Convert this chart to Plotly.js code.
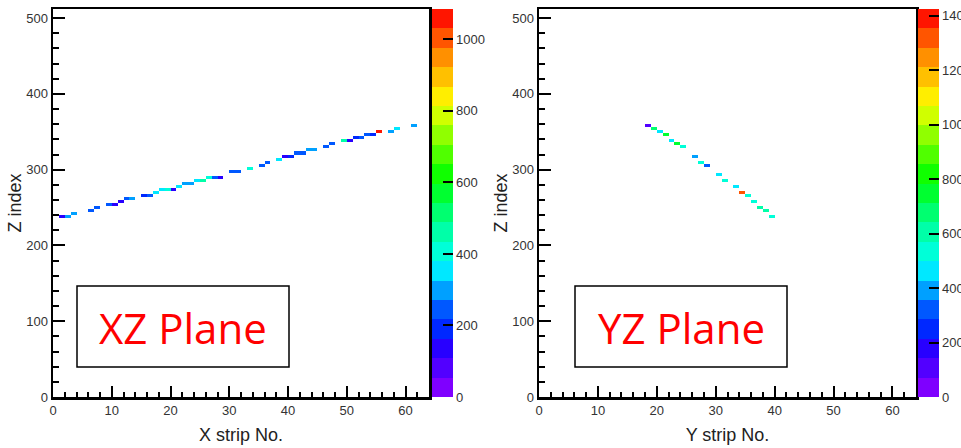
<!DOCTYPE html>
<html>
<head>
<meta charset="utf-8">
<script src="https://cdn.plot.ly/plotly-3.0.1.min.js"></script>
<style>
  html, body { margin: 0; padding: 0; background: #fff; }
  #chart { width: 961px; height: 448px; }
</style>
</head>
<body>
<div id="chart"></div>
<script>
// XZ plane: strip number, Z index and charge of each hit
const xzStrip  = [1, 2, 3, 6, 7, 9, 10, 11, 12, 13, 15, 16, 17, 18, 19, 20, 21, 22, 23, 24, 25, 26, 27, 28,
                  30, 31, 33, 35, 36, 38, 39, 40, 41, 42, 43, 44, 46, 47, 49, 50, 51, 52, 53, 54, 55, 57, 58, 61];
const xzZ      = [237, 238, 240, 246, 248, 253, 255, 256, 260, 262, 264, 266, 269, 272, 273, 275, 278, 281, 283, 285, 286, 288, 290, 291,
                  296, 298, 302, 307, 309, 313, 316, 319, 321, 323, 325, 327, 331, 332, 336, 338, 340, 342, 344, 345, 348, 351, 354, 357];
const xzCharge = [150, 300, 280, 230, 270, 240, 150, 130, 230, 300, 200, 240, 330, 360, 430, 150, 350, 290, 300, 340, 450, 380, 260, 120,
                  250, 220, 400, 240, 220, 350, 140, 200, 230, 240, 300, 290, 270, 260, 480, 140, 200, 220, 230, 210, 1060, 310, 330, 300];

// YZ plane: strip number, Z index and charge of each hit
const yzStrip  = [18, 19, 20, 21, 22, 23, 24, 26, 27, 28, 30, 31, 33, 34, 35, 36, 37, 38, 39];
const yzZ      = [357, 355, 350, 344, 339, 333, 328, 317, 311, 304, 293, 287, 276, 271, 264, 257, 251, 245, 238];
const yzCharge = [120, 680, 480, 760, 470, 740, 500, 380, 560, 320, 470, 530, 440, 1330, 540, 560, 580, 600, 560];

// colour-bar ranges and tick labels
const xzChargeMax = 1085;
const yzChargeMax = 1424;
const xzBarTicks = [0, 200, 400, 600, 800, 1000];
const yzBarTicks = [0, 200, 400, 600, 800, 1000, 1200, 1400];
const stripTicks = [0, 10, 20, 30, 40, 50, 60];
const zTicks = [0, 100, 200, 300, 400, 500];

// 20-step rainbow palette
const palette = ['#7f00ff', '#5200ff', '#2800ff', '#0028ff', '#0058ff', '#00a0ff', '#00e8ff', '#00ffd8',
                 '#00ffa8', '#00ff70', '#00ff30', '#10ff00', '#50ff00', '#90ff00', '#d0ff00', '#ffee00',
                 '#ffc000', '#ff9000', '#ff5500', '#ff1500'];
const colorscale = [];
palette.forEach((c, i) => {
  colorscale.push([i / palette.length, c]);
  colorscale.push([(i + 1) / palette.length, c]);
});

const N_STRIPS = 64, Z_MAX = 512, Z_BIN = 4;
const stripCenters = Array.from({length: N_STRIPS}, (_, i) => i + 0.5);
const zCenters = Array.from({length: Z_MAX / Z_BIN}, (_, i) => i * Z_BIN + Z_BIN / 2);

function histogram(strips, zs, charges) {
  const m = Array.from({length: Z_MAX / Z_BIN}, () => new Array(N_STRIPS).fill(null));
  strips.forEach((s, i) => {
    const r = Math.floor(zs[i] / Z_BIN);
    m[r][s] = (m[r][s] || 0) + charges[i];
  });
  return m;
}

const W = 961, H = 448;
const px = x => x / W;
const py = y => 1 - y / H;

const labelFont = {family: 'Liberation Sans, Arial, sans-serif', size: 13, color: '#333'};
const titleFont = {family: 'Liberation Sans, Arial, sans-serif', size: 18, color: '#222'};

function colorbar(x, maxTicks) {
  return {
    x: px(x), xref: 'paper', xanchor: 'left', xpad: 0,
    y: py(397), yref: 'paper', yanchor: 'bottom', ypad: 0,
    len: 388, lenmode: 'pixels', thickness: 21, thicknessmode: 'pixels',
    outlinewidth: 0,
    tickvals: maxTicks, ticks: 'inside', ticklen: 10, tickwidth: 2, tickcolor: '#000',
    tickfont: labelFont
  };
}

const traces = [
  {
    type: 'heatmap', x: stripCenters, y: zCenters, z: histogram(xzStrip, xzZ, xzCharge),
    zmin: 0, zmax: xzChargeMax, colorscale: colorscale, zsmooth: false,
    xaxis: 'x', yaxis: 'y', hoverinfo: 'skip', colorbar: colorbar(432, xzBarTicks)
  },
  {
    type: 'heatmap', x: stripCenters, y: zCenters, z: histogram(yzStrip, yzZ, yzCharge),
    zmin: 0, zmax: yzChargeMax, colorscale: colorscale, zsmooth: false,
    xaxis: 'x2', yaxis: 'y2', hoverinfo: 'skip', colorbar: colorbar(918, yzBarTicks)
  }
];

function stripAxis(domain, title, anchor) {
  return {
    domain: domain, anchor: anchor, range: [0, 64], tickvals: stripTicks,
    ticks: 'inside', ticklen: 11, tickwidth: 2, tickcolor: '#000',
    minor: {dtick: 2, tick0: 0, ticks: 'inside', ticklen: 5, tickwidth: 2, tickcolor: '#000'},
    showline: true, linewidth: 2.5, linecolor: '#000', mirror: true,
    showgrid: false, zeroline: false, tickfont: labelFont,
    title: {text: title, font: titleFont, standoff: 12}
  };
}
function zAxis(anchor) {
  return {
    domain: [py(397), py(9)], anchor: anchor, range: [0, 512], tickvals: zTicks,
    ticks: 'inside', ticklen: 12, tickwidth: 2, tickcolor: '#000',
    minor: {dtick: 20, tick0: 0, ticks: 'inside', ticklen: 6, tickwidth: 2, tickcolor: '#000'},
    showline: true, linewidth: 2.5, linecolor: '#000', mirror: true,
    showgrid: false, zeroline: false, tickfont: labelFont,
    title: {text: 'Z index', font: titleFont, standoff: 0}
  };
}

function planeBox(x0, x1, y0, y1) {
  return {type: 'rect', xref: 'paper', yref: 'paper', x0: px(x0), x1: px(x1), y0: py(y1), y1: py(y0),
          line: {color: '#000', width: 1.5}, fillcolor: '#fff', layer: 'above'};
}
function planeLabel(text, cx, cy) {
  return {text: text, xref: 'paper', yref: 'paper', x: px(cx), y: py(cy), xanchor: 'center', yanchor: 'middle',
          showarrow: false, font: {family: 'Open Sans, sans-serif', size: 42, color: '#ff0000'}};
}

const layout = {
  width: W, height: H,
  margin: {l: 0, r: 0, t: 0, b: 0, autoexpand: false},
  paper_bgcolor: '#fff', plot_bgcolor: '#fff',
  showlegend: false,
  xaxis: stripAxis([px(53), px(429)], 'X strip No.', 'y'),
  yaxis: zAxis('x'),
  xaxis2: stripAxis([px(539), px(916)], 'Y strip No.', 'y2'),
  yaxis2: zAxis('x2'),
  shapes: [planeBox(77, 289, 286, 367), planeBox(575, 787, 286, 367)],
  annotations: [planeLabel('XZ Plane', 183, 327), planeLabel('YZ Plane', 681, 327)]
};

Plotly.newPlot('chart', traces, layout, {staticPlot: true, displayModeBar: false});
</script>
</body>
</html>
